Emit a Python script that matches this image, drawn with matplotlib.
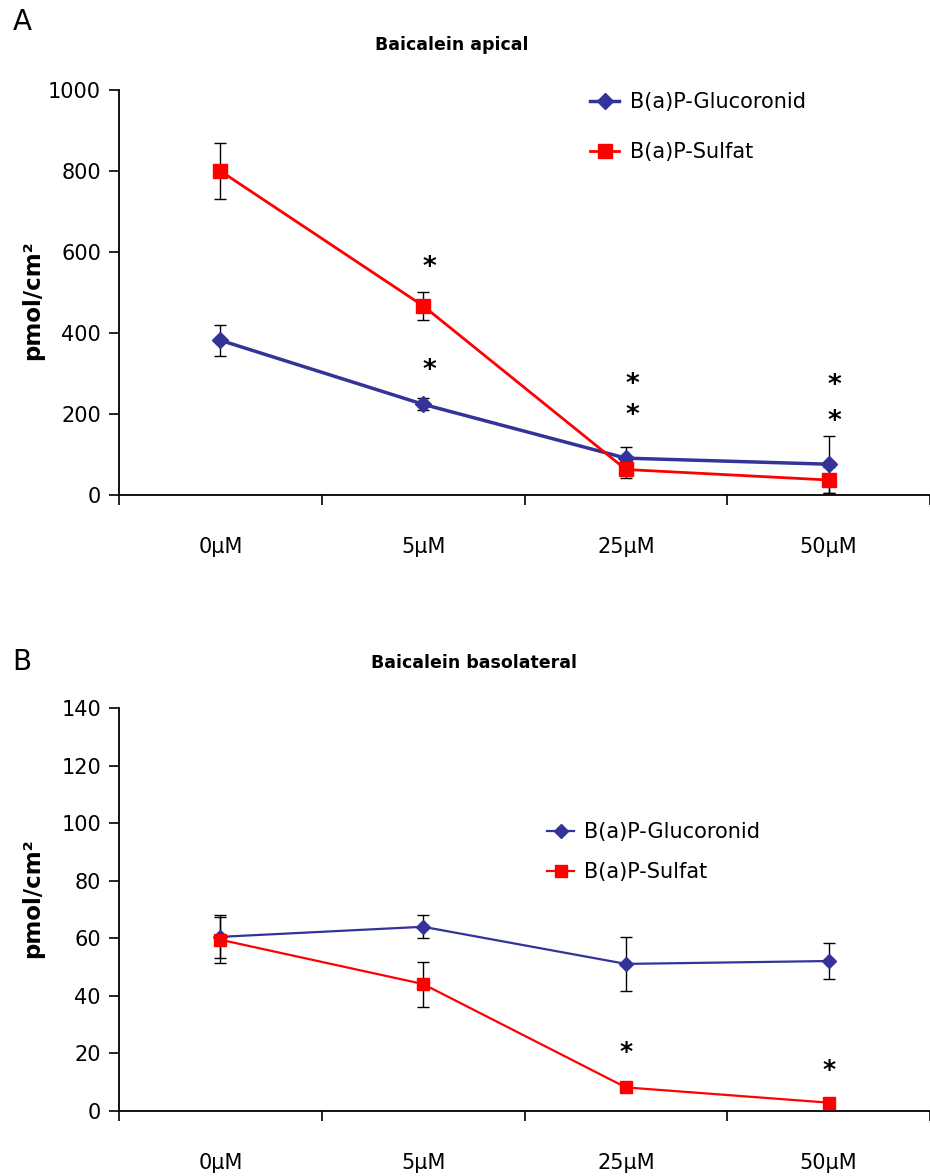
import matplotlib
matplotlib.use("Agg")
import matplotlib.pyplot as plt

# Data
CATEGORIES = ["0\u00b5M", "5\u00b5M", "25\u00b5M", "50\u00b5M"]

# Panel A: Baicalein apical
A_GLUC = [382, 224, 91, 76]
A_GLUC_ERR = [38, 15, 28, 70]
A_SULF = [800, 467, 63, 37]
A_SULF_ERR = [70, 34, 22, 32]
# significance stars: (category index, y position in data units)
A_STARS = [(1, 560), (1, 305), (2, 272), (2, 196), (3, 268), (3, 180)]

# Panel B: Baicalein basolateral
B_GLUC = [60.5, 64.0, 51.1, 52.1]
B_GLUC_ERR = [7.5, 4.0, 9.3, 6.2]
B_SULF = [59.5, 44.1, 8.2, 2.9]
B_SULF_ERR = [8.0, 7.8, 0.0, 0.0]
B_STARS = [(2, 20.5), (3, 14.3)]

BLUE = "#333399"
RED = "#ff0000"

plt.rcParams["font.family"] = ["DejaVu Sans"]

fig = plt.figure(figsize=(9.3, 11.76), dpi=100)
W, H = 930.0, 1176.0


def make_axes(top_px, bottom_px):
    left = 119 / W
    right = 930 / W
    return fig.add_axes([left, 1 - bottom_px / H, right - left, (bottom_px - top_px) / H])


def style_axes(ax, ymax, ystep):
    x = list(range(len(CATEGORIES)))
    ax.set_xlim(-0.5, 3.475)
    ax.set_ylim(0, ymax)
    ax.set_yticks(range(0, ymax + 1, ystep))
    ax.spines["top"].set_visible(False)
    ax.spines["right"].set_visible(False)
    for s in ["left", "bottom"]:
        ax.spines[s].set_linewidth(1.3)
        ax.spines[s].set_clip_on(False)
    ax.set_xticks([-0.5, 0.5, 1.5, 2.5, 3.5])
    ax.set_xticklabels([])
    ax.set_xticks(x, minor=True)
    ax.set_xticklabels(CATEGORIES, minor=True, fontsize=15)
    ax.tick_params(axis="x", which="major", direction="out", length=7, width=1.2)
    ax.tick_params(axis="x", which="minor", length=0, pad=30)
    ax.tick_params(axis="y", direction="out", length=7, width=1.2, labelsize=15, pad=6)


def draw_series(ax, vals, errs, color, marker, ms, lw, label):
    x = list(range(len(vals)))
    ax.errorbar(x, vals, yerr=errs, fmt="none", ecolor="black", elinewidth=1,
                capsize=4, capthick=1, zorder=2)
    ax.plot(x, vals, color=color, marker=marker, markersize=ms, linewidth=lw,
            label=label, zorder=3, clip_on=False)


# ---- Panel A ----
axA = make_axes(90, 495)
style_axes(axA, 1000, 200)
draw_series(axA, A_GLUC, A_GLUC_ERR, BLUE, "D", 8, 2.5, "B(a)P-Glucoronid")
draw_series(axA, A_SULF, A_SULF_ERR, RED, "s", 10, 2, "B(a)P-Sulfat")
for i, y in A_STARS:
    axA.text(i + 0.03, y, "*", fontsize=19, fontweight="bold", ha="center", va="center")
axA.legend(loc="upper left", bbox_to_anchor=(590 / W, 1 - 92 / H), bbox_transform=fig.transFigure,
           frameon=False, fontsize=15, borderpad=0, handlelength=1.4, handletextpad=0.5,
           labelspacing=1.45, borderaxespad=0)

# ---- Panel B ----
axB = make_axes(708, 1111)
style_axes(axB, 140, 20)
draw_series(axB, B_GLUC, B_GLUC_ERR, BLUE, "D", 7, 1.6, "B(a)P-Glucoronid")
draw_series(axB, B_SULF, B_SULF_ERR, RED, "s", 9, 1.6, "B(a)P-Sulfat")
for i, y in B_STARS:
    axB.text(i, y, "*", fontsize=18, fontweight="bold", ha="center", va="center")
axB.legend(loc="upper left", bbox_to_anchor=(547 / W, 1 - 822 / H), bbox_transform=fig.transFigure,
           frameon=False, fontsize=15, borderpad=0, handlelength=1.3, handletextpad=0.5,
           labelspacing=0.95, borderaxespad=0)

# Titles, panel letters, y labels
fig.text(452 / W, 1 - 45 / H, "Baicalein apical", fontsize=12.5, fontweight="bold", ha="center", va="center")
fig.text(474 / W, 1 - 663 / H, "Baicalein basolateral", fontsize=12.5, fontweight="bold", ha="center", va="center")
fig.text(22 / W, 1 - 22 / H, "A", fontsize=20, ha="center", va="center")
fig.text(22 / W, 1 - 662 / H, "B", fontsize=20, ha="center", va="center")
fig.text(33 / W, 1 - 300 / H, "pmol/cm\u00b2", fontsize=16.5, fontweight="bold", rotation=90, ha="center", va="center")
fig.text(33 / W, 1 - 898 / H, "pmol/cm\u00b2", fontsize=16.5, fontweight="bold", rotation=90, ha="center", va="center")

fig.savefig("out.png", dpi=100)
